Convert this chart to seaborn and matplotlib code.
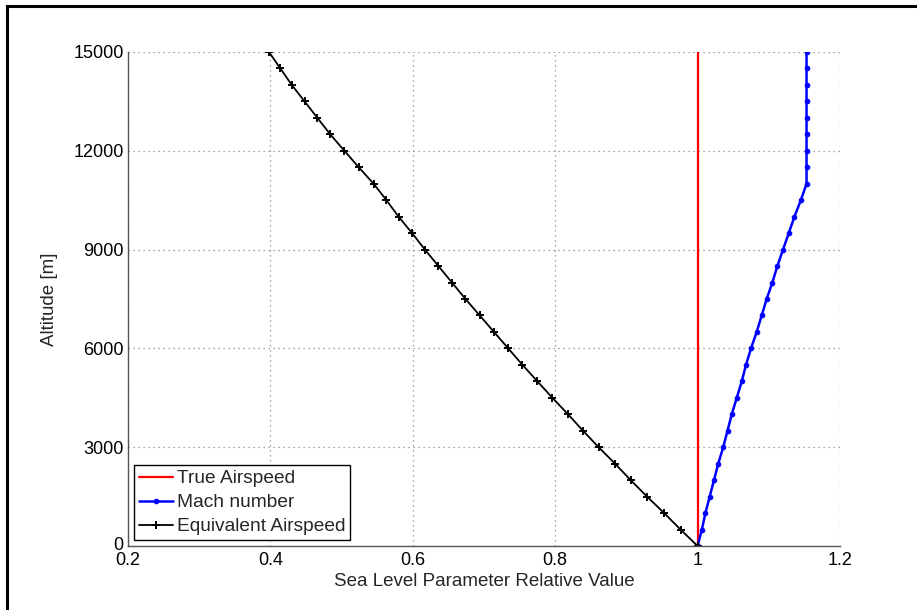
import numpy as np
import pandas as pd
import matplotlib
matplotlib.use("Agg")
import matplotlib.pyplot as plt
import matplotlib.transforms as mtransforms
import seaborn as sns

# Altitude levels [m]
altitude = [0, 500, 1000, 1500, 2000, 2500, 3000, 3500, 4000, 4500, 5000,
            5500, 6000, 6500, 7000, 7500, 8000, 8500, 9000, 9500, 10000,
            10500, 11000, 11500, 12000, 12500, 13000, 13500, 14000, 14500, 15000]

# Relative values with respect to sea level
true_airspeed = [1.0] * len(altitude)
mach_number = [1.000, 1.006, 1.011, 1.017, 1.023, 1.029, 1.036, 1.042, 1.048, 1.055, 1.062,
               1.068, 1.075, 1.083, 1.090, 1.097, 1.105, 1.112, 1.120, 1.128, 1.136,
               1.145, 1.153, 1.153, 1.153, 1.153, 1.153, 1.153, 1.153, 1.153, 1.153]
equivalent_airspeed = [1.000, 0.976, 0.953, 0.929, 0.906, 0.884, 0.861, 0.839, 0.818, 0.796, 0.775,
                       0.754, 0.734, 0.714, 0.694, 0.674, 0.655, 0.636, 0.617, 0.599, 0.580,
                       0.563, 0.545, 0.524, 0.504, 0.484, 0.466, 0.448, 0.430, 0.414, 0.398]

x_ticks = [0.2, 0.4, 0.6, 0.8, 1.0, 1.2]
x_tick_labels = ["0.2", "0.4", "0.6", "0.8", "1", "1.2"]
y_ticks = [0, 3000, 6000, 9000, 12000, 15000]

sns.set_style("white")
plt.rcParams["font.family"] = ["Liberation Sans", "DejaVu Sans"]

fig = plt.figure(figsize=(9.17, 6.10), dpi=100)
ax = fig.add_axes([128 / 917, 1 - 546 / 610, (840 - 128) / 917, (546 - 52) / 610])

df_tas = pd.DataFrame({"value": true_airspeed, "altitude": altitude})
df_mach = pd.DataFrame({"value": mach_number, "altitude": altitude})
df_eas = pd.DataFrame({"value": equivalent_airspeed, "altitude": altitude})

sns.lineplot(data=df_tas, x="value", y="altitude", orient="y", sort=False,
             color="#ff0000", linewidth=1.6, label="True Airspeed", ax=ax)
sns.lineplot(data=df_mach, x="value", y="altitude", orient="y", sort=False,
             color="#0000ff", linewidth=1.8, marker="o", markersize=3.3,
             markeredgecolor="#0000ff", markerfacecolor="#0000ff",
             label="Mach number", ax=ax)
sns.lineplot(data=df_eas, x="value", y="altitude", orient="y", sort=False,
             color="black", linewidth=1.3, marker="+", markersize=6,
             markeredgewidth=1.4, markeredgecolor="black",
             label="Equivalent Airspeed", ax=ax)

ax.set_xlim(0.2, 1.2)
ax.set_ylim(0, 15000)
ax.set_xticks(x_ticks)
ax.set_xticklabels(x_tick_labels)
ax.set_yticks(y_ticks)
ax.set_yticklabels([str(v) for v in y_ticks])
ax.tick_params(axis="both", direction="in", length=5, width=1, colors="#333333",
               labelsize=13, labelcolor="black", pad=3)
ax.tick_params(axis="x", pad=4)

# Lift the bottom y tick label slightly so it clears the first x tick label
zero_label = ax.get_yticklabels()[0]
zero_label.set_transform(zero_label.get_transform() +
                         mtransforms.ScaledTranslation(0, 3 / 100, fig.dpi_scale_trans))

ax.grid(True, linestyle=(0, (1, 3)), color="#888888", linewidth=0.9)
ax.set_axisbelow(True)
for side in ["top", "right"]:
    ax.spines[side].set_visible(False)
for side in ["left", "bottom"]:
    ax.spines[side].set_color("#555555")
    ax.spines[side].set_linewidth(1.0)

ax.set_xlabel("Sea Level Parameter Relative Value", fontsize=13.5, labelpad=3)
ax.set_ylabel("Altitude [m]", fontsize=13.5, labelpad=11)

leg = ax.legend(loc="lower left", fontsize=13.8, frameon=True, fancybox=False,
                borderpad=0.25, handlelength=1.8, handletextpad=0.2,
                labelspacing=0.35, borderaxespad=0.3)
leg.get_frame().set_edgecolor("black")
leg.get_frame().set_linewidth(1.0)
leg.get_frame().set_alpha(1.0)

# Outer frame of the figure
frame = plt.Rectangle((7 / 917, -0.05), 1.1, 1 - 6 / 610 + 0.05, transform=fig.transFigure,
                      fill=False, edgecolor="black", linewidth=2.2)
fig.patches.append(frame)

fig.savefig("out.png", dpi=100)
